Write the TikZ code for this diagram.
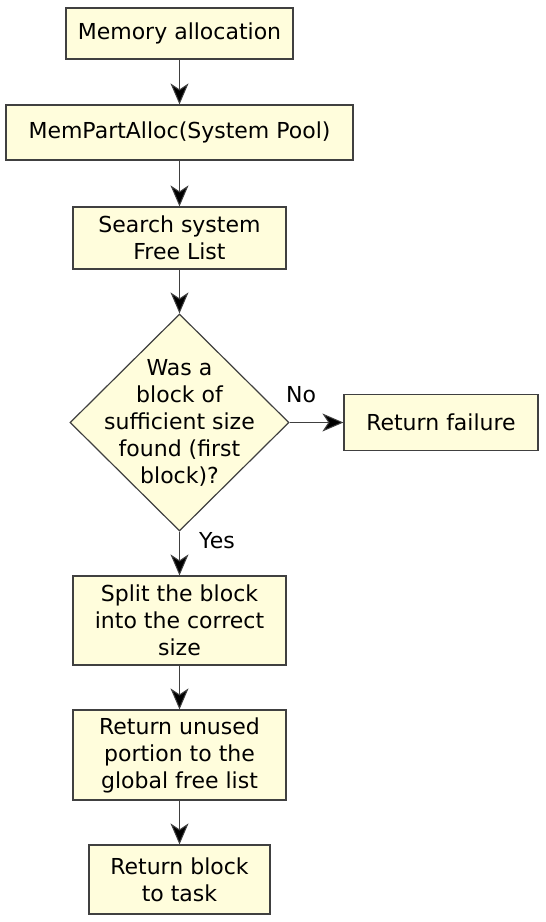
\documentclass[tikz,border=0pt]{standalone}
\usepackage{fontspec}
\setmainfont{DejaVu Sans}
\usetikzlibrary{arrows.meta,shapes.geometric}
\definecolor{boxfill}{HTML}{FFFDDC}
\definecolor{lineclr}{HTML}{404040}

\begin{document}
\begin{tikzpicture}[x=1pt, y=-1pt,
    every node/.style = {font=\fontsize{22}{27}\selectfont},
    box/.style = {draw=lineclr, line width=1.2pt, fill=boxfill, align=center, inner sep=0pt},
    dec/.style = {draw=lineclr, line width=1.2pt, fill=boxfill, diamond, inner sep=0pt, minimum width=219pt, minimum height=217pt},
    go/.style = {draw=lineclr, line width=1pt, -{Stealth[length=21pt, width=18pt, inset=6pt, fill=black]}}]
  \useasboundingbox (0,0) rectangle (546,922);

  \node[box, minimum width=227pt, minimum height=51pt] (s1) at (179.5,33.5) {Memory allocation};
  \node[box, minimum width=347pt, minimum height=55pt] (s2) at (179.5,132.5) {MemPartAlloc(System Pool)};
  \node[box, minimum width=213pt, minimum height=62pt] (s3) at (179.5,238) {Search system\\Free List};

  \node[dec] (d) at (179.5,422.5) {};
  \node[align=center] (q) at (d.center) {Was a\\block of\\sufficient size\\found (first\\block)?};

  \node[box, minimum width=194pt, minimum height=56pt] (f) at (441,422.5) {Return failure};

  \node[box, minimum width=213pt, minimum height=89pt] (s4) at (179.5,620.5) {Split the block\\into the correct\\size};
  \node[box, minimum width=213pt, minimum height=90pt] (s5) at (179.5,755) {Return unused\\portion to the\\global free list};
  \node[box, minimum width=181pt, minimum height=69pt] (s6) at (179.5,879.5) {Return block\\to task};

  \node (no) at (301,395) {No};
  \node (yes) at (217,541) {Yes};

  \draw[go] (s1) -- (s2);
  \draw[go] (s2) -- (s3);
  \draw[go] (s3) -- (d);
  \draw[go] (d.east) -- (f);
  \draw[go] (d.south) -- (s4);
  \draw[go] (s4) -- (s5);
  \draw[go] (s5) -- (s6);
\end{tikzpicture}
\end{document}
